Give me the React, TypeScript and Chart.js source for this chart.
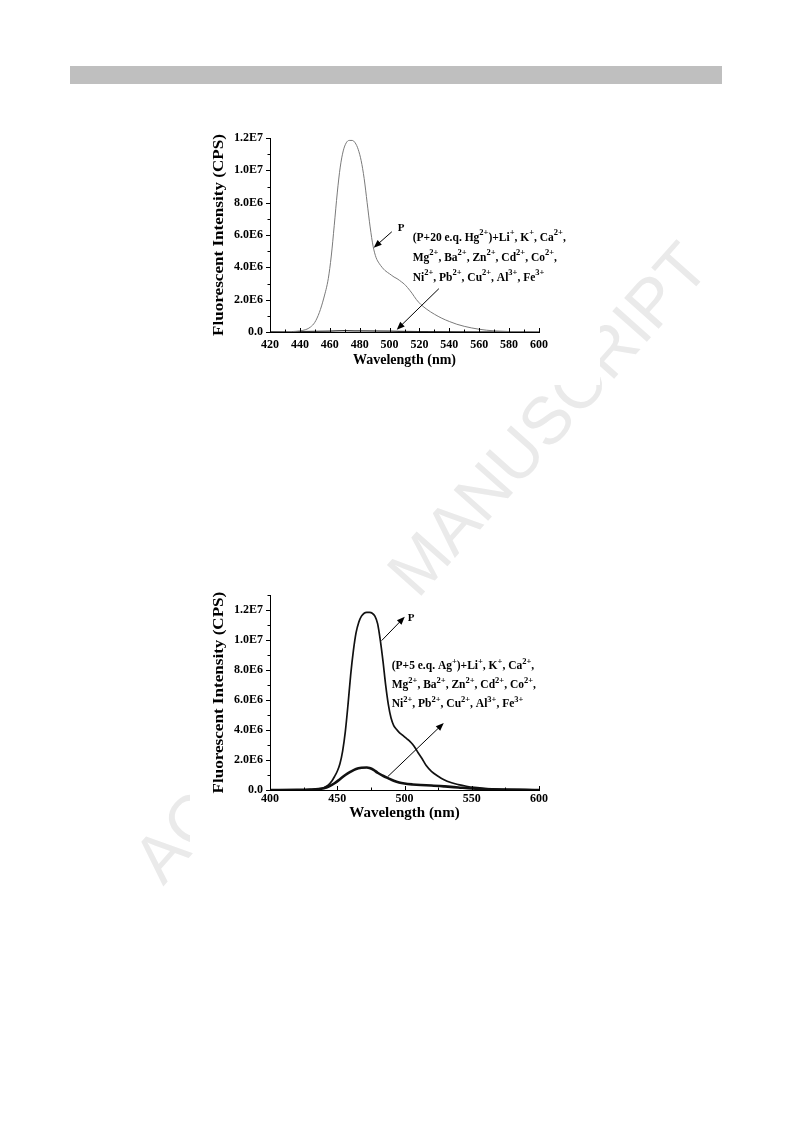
import React, { useEffect, useRef } from "react";
import { Chart, registerables } from "chart.js";
Chart.register(...registerables);

// ---------- Chart 1 data (Hg2+ panel) ----------
const wl1P = [420, 430, 435, 440, 444, 447, 450, 453, 456, 459, 461, 463, 465, 467, 469, 471, 473, 475, 477, 479, 481, 483, 485, 487, 489, 491, 493, 495, 497, 500, 503, 505, 508, 510, 512, 515, 518, 521, 525, 530, 535, 540, 545, 550, 555, 560, 565, 570, 580, 590, 600];
const int1P = [0, 0.02e6, 0.03e6, 0.07e6, 0.15e6, 0.3e6, 0.6e6, 1.2e6, 2.1e6, 3.3e6, 4.7e6, 6.6e6, 8.6e6, 10.2e6, 11.2e6, 11.7e6, 11.85e6, 11.85e6, 11.7e6, 11.3e6, 10.6e6, 9.5e6, 8.0e6, 6.5e6, 5.3e6, 4.6e6, 4.25e6, 4.0e6, 3.8e6, 3.6e6, 3.4e6, 3.3e6, 3.1e6, 2.95e6, 2.75e6, 2.4e6, 2.0e6, 1.7e6, 1.4e6, 1.1e6, 0.85e6, 0.65e6, 0.48e6, 0.35e6, 0.25e6, 0.17e6, 0.11e6, 0.07e6, 0.03e6, 0.01e6, 0];
const wl1Hg = [420, 440, 460, 470, 480, 500, 520, 560, 600];
const int1Hg = [0.02e6, 0.03e6, 0.06e6, 0.08e6, 0.07e6, 0.05e6, 0.03e6, 0.01e6, 0];
const xTicks1 = [420, 440, 460, 480, 500, 520, 540, 560, 580, 600];
const xMinor1 = [430, 450, 470, 490, 510, 530, 550, 570, 590];
const yTicks1 = [0, 2e6, 4e6, 6e6, 8e6, 10e6, 12e6];
const yLabels1 = ["0.0", "2.0E6", "4.0E6", "6.0E6", "8.0E6", "1.0E7", "1.2E7"];
const yMinor1 = [1e6, 3e6, 5e6, 7e6, 9e6, 11e6];
const note1Lines = [
  "(P+20 e.q. Hg^{2+})+Li^{+}, K^{+}, Ca^{2+},",
  "Mg^{2+}, Ba^{2+}, Zn^{2+}, Cd^{2+}, Co^{2+},",
  "Ni^{2+}, Pb^{2+}, Cu^{2+}, Al^{3+}, Fe^{3+}",
];

// ---------- Chart 2 data (Ag+ panel) ----------
const wl2P = [400, 420, 430, 436, 440, 443, 446, 448, 450, 452, 454, 456, 458, 460, 462, 464, 466, 468, 470, 472, 474, 476, 478, 480, 482, 484, 486, 488, 490, 492, 494, 496, 498, 500, 502, 504, 506, 508, 510, 513, 516, 520, 525, 529, 535, 540, 546, 552, 560, 571, 585, 600];
const int2P = [0, 0.01e6, 0.03e6, 0.07e6, 0.15e6, 0.3e6, 0.6e6, 0.9e6, 1.25e6, 1.75e6, 2.6e6, 3.9e6, 5.7e6, 7.7e6, 9.3e6, 10.5e6, 11.2e6, 11.6e6, 11.8e6, 11.85e6, 11.85e6, 11.8e6, 11.6e6, 11.1e6, 10.0e6, 8.6e6, 7.0e6, 5.7e6, 4.8e6, 4.3e6, 4.05e6, 3.85e6, 3.7e6, 3.55e6, 3.4e6, 3.25e6, 3.05e6, 2.8e6, 2.5e6, 2.1e6, 1.65e6, 1.25e6, 0.92e6, 0.7e6, 0.48e6, 0.36e6, 0.25e6, 0.17e6, 0.1e6, 0.05e6, 0.02e6, 0];
const wl2Ag = [400, 420, 430, 436, 440, 444, 448, 452, 456, 460, 464, 468, 472, 474, 477, 480, 484, 488, 492, 496, 500, 506, 512, 520, 530, 540, 550, 560, 575, 590, 600];
const int2Ag = [0, 0.01e6, 0.03e6, 0.06e6, 0.12e6, 0.25e6, 0.45e6, 0.72e6, 1.0e6, 1.22e6, 1.4e6, 1.48e6, 1.5e6, 1.47e6, 1.35e6, 1.15e6, 0.95e6, 0.78e6, 0.62e6, 0.5e6, 0.43e6, 0.37e6, 0.33e6, 0.3e6, 0.24e6, 0.17e6, 0.1e6, 0.06e6, 0.03e6, 0.01e6, 0];
const xTicks2 = [400, 450, 500, 550, 600];
const xMinor2 = [425, 475, 525, 575];
const yTicks2 = [0, 2e6, 4e6, 6e6, 8e6, 10e6, 12e6];
const yLabels2 = ["0.0", "2.0E6", "4.0E6", "6.0E6", "8.0E6", "1.0E7", "1.2E7"];
const yMinor2 = [1e6, 3e6, 5e6, 7e6, 9e6, 11e6, 13e6];
const note2Lines = [
  "(P+5 e.q. Ag^{+})+Li^{+}, K^{+}, Ca^{2+},",
  "Mg^{2+}, Ba^{2+}, Zn^{2+}, Cd^{2+}, Co^{2+},",
  "Ni^{2+}, Pb^{2+}, Cu^{2+}, Al^{3+}, Fe^{3+}",
];

const X_TITLE = "Wavelength (nm)";
const Y_TITLE = "Fluorescent Intensity (CPS)";
const WATERMARK = "ACCEPTED MANUSCRIPT";

const SERIF = '"Liberation Serif", "Times New Roman", serif';

function drawRich(ctx: CanvasRenderingContext2D, str: string, x: number, y: number, size: number) {
  const parts = str.split(/(\^\{[^}]*\})/).filter(Boolean);
  let cx = x;
  for (const p of parts) {
    if (p.startsWith("^{")) {
      const t = p.slice(2, -1);
      ctx.font = `bold ${size * 0.74}px ${SERIF}`;
      ctx.fillText(t, cx, y - size * 0.42);
      cx += ctx.measureText(t).width;
    } else {
      ctx.font = `bold ${size}px ${SERIF}`;
      ctx.fillText(p, cx, y);
      cx += ctx.measureText(p).width;
    }
  }
}

function drawArrow(ctx: CanvasRenderingContext2D, x1: number, y1: number, x2: number, y2: number) {
  const a = Math.atan2(y2 - y1, x2 - x1);
  const L = 8, W = 3.2;
  ctx.beginPath();
  ctx.moveTo(x1, y1);
  ctx.lineTo(x2 - L * 0.8 * Math.cos(a), y2 - L * 0.8 * Math.sin(a));
  ctx.stroke();
  ctx.beginPath();
  ctx.moveTo(x2, y2);
  ctx.lineTo(x2 - L * Math.cos(a) + W * Math.sin(a), y2 - L * Math.sin(a) - W * Math.cos(a));
  ctx.lineTo(x2 - L * Math.cos(a) - W * Math.sin(a), y2 - L * Math.sin(a) + W * Math.cos(a));
  ctx.closePath();
  ctx.fill();
}

type Panel = {
  series: { xs: number[]; ys: number[]; color: string; width: number }[];
  xMin: number; xMax: number; yMax: number;
  xTicks: number[]; xMinor: number[];
  yTicks: number[]; yLabels: string[]; yMinor: number[];
  yAxisWidth: number; xAxisHeight: number;
  padTop: number; padRight: number;
  xTitleOffset: number; xTitleSize: number; xTickPad: number;
  notes: {
    pLabel: [number, number];
    arrows: [number, number, number, number][];
    textAnchor: [number, number];
    lineStep: number;
    lines: string[];
  };
};

function ChartPanel({ panel, left, top, width, height, bg }: { panel: Panel; left: number; top: number; width: number; height: number; bg: string }) {
  const ref = useRef<HTMLCanvasElement | null>(null);
  useEffect(() => {
    if (!ref.current) return;
    const p = panel;
    const decor = {
      id: "decor",
      afterDraw(chart: any) {
        const ctx: CanvasRenderingContext2D = chart.ctx;
        const xs = chart.scales.x, ys = chart.scales.y;
        const ca = chart.chartArea;
        ctx.save();
        ctx.strokeStyle = "#000";
        ctx.fillStyle = "#000";
        ctx.lineWidth = 1;
        for (const v of p.yTicks) {
          const y = Math.round(ys.getPixelForValue(v)) + 0.5;
          ctx.beginPath(); ctx.moveTo(ca.left - 4, y); ctx.lineTo(ca.left, y); ctx.stroke();
        }
        for (const v of p.yMinor) {
          const y = Math.round(ys.getPixelForValue(v)) + 0.5;
          ctx.beginPath(); ctx.moveTo(ca.left - 2.5, y); ctx.lineTo(ca.left, y); ctx.stroke();
        }
        for (const v of p.xTicks) {
          const x = Math.round(xs.getPixelForValue(v)) + 0.5;
          ctx.beginPath(); ctx.moveTo(x, ca.bottom); ctx.lineTo(x, ca.bottom - 4); ctx.stroke();
        }
        for (const v of p.xMinor) {
          const x = Math.round(xs.getPixelForValue(v)) + 0.5;
          ctx.beginPath(); ctx.moveTo(x, ca.bottom); ctx.lineTo(x, ca.bottom - 2.5); ctx.stroke();
        }
        ctx.textAlign = "center";
        ctx.textBaseline = "middle";
        ctx.font = `bold ${p.xTitleSize}px ${SERIF}`;
        ctx.fillText(X_TITLE, (ca.left + ca.right) / 2, ca.bottom + p.xTitleOffset);
        ctx.save();
        ctx.translate(ca.left - 51, (ca.top + ca.bottom) / 2);
        ctx.rotate(-Math.PI / 2);
        ctx.scale(1.22, 1);
        ctx.font = `bold 14px ${SERIF}`;
        ctx.fillText(Y_TITLE, 0, 0);
        ctx.restore();
        const n = p.notes;
        ctx.lineWidth = 1;
        for (const [ax, ay, bx, by] of n.arrows) {
          drawArrow(ctx, xs.getPixelForValue(ax), ys.getPixelForValue(ay), xs.getPixelForValue(bx), ys.getPixelForValue(by));
        }
        ctx.textAlign = "left";
        ctx.textBaseline = "middle";
        ctx.font = `bold 11px ${SERIF}`;
        ctx.fillText("P", xs.getPixelForValue(n.pLabel[0]), ys.getPixelForValue(n.pLabel[1]));
        n.lines.forEach((line, i) => {
          drawRich(ctx, line, xs.getPixelForValue(n.textAnchor[0]), ys.getPixelForValue(n.textAnchor[1] - i * n.lineStep), 11.5);
        });
        ctx.restore();
      },
    };
    const chart = new Chart(ref.current, {
      type: "line",
      data: {
        datasets: p.series.map((s) => ({
          data: s.xs.map((x, i) => ({ x, y: s.ys[i] })),
          borderColor: s.color,
          borderWidth: s.width,
          pointRadius: 0,
          fill: false,
          cubicInterpolationMode: "monotone" as const,
        })),
      },
      options: {
        responsive: false,
        animation: false,
        layout: { padding: { top: p.padTop, right: p.padRight, left: 0, bottom: 0 } },
        plugins: { legend: { display: false }, tooltip: { enabled: false } },
        scales: {
          x: {
            type: "linear",
            min: p.xMin,
            max: p.xMax,
            afterBuildTicks: (s: any) => { s.ticks = p.xTicks.map((v) => ({ value: v })); },
            afterFit: (s: any) => { s.height = p.xAxisHeight; },
            grid: { display: false, drawTicks: false },
            border: { display: true, color: "#000", width: 1 },
            ticks: {
              color: "#000",
              padding: p.xTickPad,
              maxRotation: 0,
              autoSkip: false,
              font: { family: SERIF, size: 12, weight: "bold" },
              callback: (v: any) => String(v),
            },
          },
          y: {
            type: "linear",
            min: 0,
            max: p.yMax,
            afterBuildTicks: (s: any) => { s.ticks = p.yTicks.map((v) => ({ value: v })); },
            afterFit: (s: any) => { s.width = p.yAxisWidth; },
            grid: { display: false, drawTicks: false },
            border: { display: true, color: "#000", width: 1 },
            ticks: {
              color: "#000",
              padding: 7,
              autoSkip: false,
              font: { family: SERIF, size: 12, weight: "bold" },
              callback: (_v: any, i: number) => p.yLabels[i],
            },
          },
        },
      },
      plugins: [decor],
    } as any);
    return () => chart.destroy();
  }, [panel]);
  return (
    <canvas
      ref={ref}
      width={width}
      height={height}
      style={{ position: "absolute", left, top, width, height, background: bg, display: "block" }}
    />
  );
}

const panel1: Panel = {
  series: [
    { xs: wl1P, ys: int1P, color: "#7a7a7a", width: 1 },
    { xs: wl1Hg, ys: int1Hg, color: "#333", width: 1.2 },
  ],
  xMin: 420, xMax: 600, yMax: 12e6,
  xTicks: xTicks1, xMinor: xMinor1,
  yTicks: yTicks1, yLabels: yLabels1, yMinor: yMinor1,
  yAxisWidth: 70, xAxisHeight: 53,
  padTop: 23, padRight: 61,
  xTitleOffset: 28, xTitleSize: 14, xTickPad: 6,
  notes: {
    pLabel: [505.5, 6.4e6],
    arrows: [
      [501.5, 6.2e6, 489.4, 5.21e6],
      [533, 2.68e6, 504.8, 0.14e6],
    ],
    textAnchor: [515.5, 5.83e6],
    lineStep: 1.24e6,
    lines: note1Lines,
  },
};

const panel2: Panel = {
  series: [
    { xs: wl2P, ys: int2P, color: "#111", width: 1.7 },
    { xs: wl2Ag, ys: int2Ag, color: "#111", width: 2.6 },
  ],
  xMin: 400, xMax: 600, yMax: 13e6,
  xTicks: xTicks2, xMinor: xMinor2,
  yTicks: yTicks2, yLabels: yLabels2, yMinor: yMinor2,
  yAxisWidth: 80, xAxisHeight: 50,
  padTop: 6, padRight: 21,
  xTitleOffset: 23, xTitleSize: 15, xTickPad: 2,
  notes: {
    pLabel: [502.4, 11.49e6],
    arrows: [
      [483, 9.97e6, 500.2, 11.56e6],
      [487.5, 0.89e6, 529.2, 4.47e6],
    ],
    textAnchor: [490.5, 8.24e6],
    lineStep: 1.26e6,
    lines: note2Lines,
  },
};

export default function App() {
  return (
    <div style={{ position: "absolute", left: 0, top: 0, width: 793, height: 1123, background: "#fff", overflow: "hidden" }}>
      <div style={{ position: "absolute", left: 70, top: 66, width: 652, height: 18, background: "#bfbfbf" }} />
      <div
        style={{
          position: "absolute",
          left: 420,
          top: 562,
          transform: "translate(-50%, -50%) rotate(-48.4deg)",
          whiteSpace: "nowrap",
          fontFamily: '"Liberation Sans", Arial, sans-serif',
          fontSize: 67,
          color: "#eaeaea",
          lineHeight: 1,
        }}
      >
        {WATERMARK}
      </div>
      <div style={{ position: "absolute", left: 190, top: 590, width: 205, height: 255, background: "#fff" }} />
      <div style={{ position: "absolute", left: 190, top: 640, width: 370, height: 205, background: "#fff" }} />
      <ChartPanel panel={panel1} left={200} top={115} width={400} height={270} bg="#fff" />
      <ChartPanel panel={panel2} left={190} top={581} width={370} height={259} bg="transparent" />
    </div>
  );
}
